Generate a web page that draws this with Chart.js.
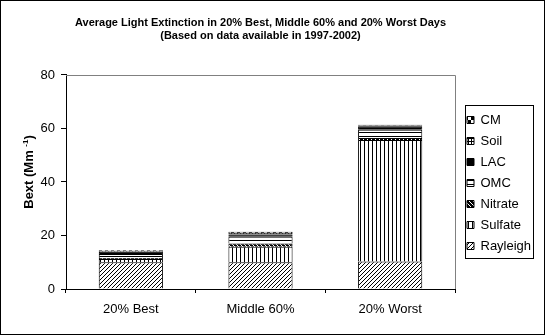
<!DOCTYPE html>
<html>
<head>
<meta charset="utf-8">
<script src="https://cdn.jsdelivr.net/npm/chart.js@4"></script>
<style>
  html, body { margin: 0; padding: 0; background: #fff; }
  canvas { display: block; }
</style>
</head>
<body>
<canvas id="c" width="546" height="336" style="width:546px;height:336px"></canvas>
<script>
// ---- data ----
const categories = ['20% Best', 'Middle 60%', '20% Worst'];
const rayleigh = [10.0, 10.0, 10.3];
const sulfate  = [1.2, 5.8, 45.4];
const nitrate  = [0.4, 1.2, 0.7];
const omc      = [1.5, 2.5, 3.1];
const lac      = [0.8, 0.9, 1.3];
const soil     = [0.3, 0.5, 0.3];
const cm       = [0.3, 0.5, 0.3];
const yTicks   = [0, 20, 40, 60, 80];
const titleLines = ['Average Light Extinction in 20% Best, Middle 60% and 20% Worst Days',
                    '(Based on data available in 1997-2002)'];
const yTitleMain = 'Bext (Mm ';
const yTitleSup = '-1';
const yTitleEnd = ')';

// ---- patterns ----
function makePattern(w, h, draw) {
  const c = document.createElement('canvas');
  c.width = w; c.height = h;
  const x = c.getContext('2d');
  x.fillStyle = '#fff'; x.fillRect(0, 0, w, h);
  x.fillStyle = '#000';
  draw(x);
  return x.createPattern(c, 'repeat');
}
const pRayleigh = makePattern(4, 4, x => { for (let i = 0; i < 4; i++) x.fillRect(3 - i, i, 1, 1); });
const pSulfate  = makePattern(4, 4, x => { x.fillRect(0, 0, 1, 4); });
const pNitrate  = makePattern(4, 4, x => { x.fillRect(0, 0, 4, 4); x.fillStyle = '#fff'; for (let i = 0; i < 4; i++) x.fillRect(i, i, 1, 1); });
const pOMC      = makePattern(4, 4, x => { x.fillRect(0, 0, 4, 1); });
const pLAC      = '#000';
const pSoil     = makePattern(3, 3, x => { x.fillRect(0, 0, 3, 1); x.fillRect(0, 0, 1, 3); });
const pCM       = makePattern(6, 6, x => { x.fillRect(0, 0, 3, 3); x.fillRect(3, 3, 3, 3); });

const FONT = '"Liberation Sans", Arial, sans-serif';

function ds(label, data, bg) {
  return { label, data, backgroundColor: bg, borderColor: '#000', borderWidth: 1,
           barPercentage: 0.495, categoryPercentage: 1.0 };
}

const deco = {
  id: 'deco',
  beforeInit(chart) {
    const lg = chart.legend;
    const f = lg.fit;
    lg.fit = function () { f.call(this); this.width = 91; };
  },
  afterLayout(chart) {
    const ca = chart.chartArea;
    const t = chart.titleBlock;
    if (t) { t.left = ca.left; t.right = ca.right; }
    const lg = chart.legend;
    lg.left = 459; lg.right = lg.left + 91;
    lg.top = 105.5; lg.bottom = 320;
  },
  beforeDraw(chart) {
    const ctx = chart.ctx;
    ctx.save(); ctx.fillStyle = '#fff'; ctx.fillRect(0, 0, chart.width, chart.height); ctx.restore();
  },
  beforeDatasetsDraw(chart) {
    const ctx = chart.ctx, ca = chart.chartArea;
    ctx.save();
    ctx.strokeStyle = '#808080'; ctx.lineWidth = 1;
    ctx.beginPath();
    ctx.moveTo(ca.left, Math.round(ca.top) + 0.5);
    ctx.lineTo(Math.round(ca.right) + 0.5, Math.round(ca.top) + 0.5);
    ctx.lineTo(Math.round(ca.right) + 0.5, ca.bottom);
    ctx.stroke();
    ctx.restore();
  },
  afterDraw(chart) {
    const ctx = chart.ctx;
    const hb = chart.legend.legendHitBoxes;
    ctx.save();
    ctx.strokeStyle = '#000'; ctx.lineWidth = 1;
    if (hb && hb.length) {
      const l = Math.min(...hb.map(h => h.left));
      const r = Math.max(...hb.map(h => h.left + h.width));
      const t = Math.min(...hb.map(h => h.top));
      const b = Math.max(...hb.map(h => h.top + h.height));
      ctx.strokeRect(Math.round(l - 2) + 0.5, Math.round(t - 9) + 0.5, Math.round(r - l + 4), Math.round(b - t + 14));
    }
    ctx.strokeRect(0.5, 0.5, 544, 334);
    // y-axis title with superscript
    const ca = chart.chartArea;
    const fMain = 'bold 13px ' + FONT, fSup = 'bold 8px ' + FONT;
    ctx.font = fMain; const w1 = ctx.measureText(yTitleMain).width; const w3 = ctx.measureText(yTitleEnd).width;
    ctx.font = fSup; const w2 = ctx.measureText(yTitleSup).width;
    const total = w1 + w2 + w3;
    ctx.translate(33, (ca.top + ca.bottom) / 2 - 10);
    ctx.rotate(-Math.PI / 2);
    ctx.fillStyle = '#000';
    ctx.textBaseline = 'alphabetic';
    ctx.textAlign = 'left';
    let x = -total / 2;
    ctx.font = fMain; ctx.fillText(yTitleMain, x, 0); x += w1;
    ctx.font = fSup; ctx.fillText(yTitleSup, x, -5); x += w2;
    ctx.font = fMain; ctx.fillText(yTitleEnd, x, 0);
    ctx.restore();
  }
};

new Chart(document.getElementById('c'), {
  type: 'bar',
  data: {
    labels: categories,
    datasets: [
      ds('Rayleigh', rayleigh, pRayleigh),
      ds('Sulfate', sulfate, pSulfate),
      ds('Nitrate', nitrate, pNitrate),
      ds('OMC', omc, pOMC),
      ds('LAC', lac, pLAC),
      ds('Soil', soil, pSoil),
      ds('CM', cm, pCM)
    ]
  },
  options: {
    responsive: false,
    devicePixelRatio: 1,
    animation: false,
    layout: { padding: 0 },
    plugins: {
      tooltip: { enabled: false },
      title: {
        display: true,
        text: titleLines,
        color: '#000',
        font: { family: FONT, size: 11, weight: 'bold', lineHeight: 1.23 },
        padding: { top: 16, bottom: 31.9 }
      },
      legend: {
        display: true,
        position: 'right',
        align: 'start',
        reverse: true,
        labels: {
          boxWidth: 7, boxHeight: 7, padding: 8,
          color: '#000',
          font: { family: FONT, size: 13 }
        }
      }
    },
    scales: {
      x: {
        stacked: true,
        grid: { display: true, offset: true, drawOnChartArea: false, drawTicks: true, tickLength: 4, color: '#000' },
        border: { display: true, color: '#000', width: 1 },
        ticks: { color: '#000', font: { family: FONT, size: 13 }, padding: 9, maxRotation: 0 },
        afterFit(axis) { axis.height = 47; }
      },
      y: {
        stacked: true,
        min: 0, max: 80,
        afterBuildTicks(axis) { axis.ticks = yTicks.map(v => ({ value: v })); },
        grid: { display: true, drawOnChartArea: false, drawTicks: true, tickLength: 5, color: '#000' },
        border: { display: true, color: '#000', width: 1 },
        ticks: { color: '#000', font: { family: FONT, size: 13 }, padding: 6 },
        title: { display: false },
        afterFit(axis) { axis.width = 66; }
      }
    }
  },
  plugins: [deco]
});
</script>
</body>
</html>
